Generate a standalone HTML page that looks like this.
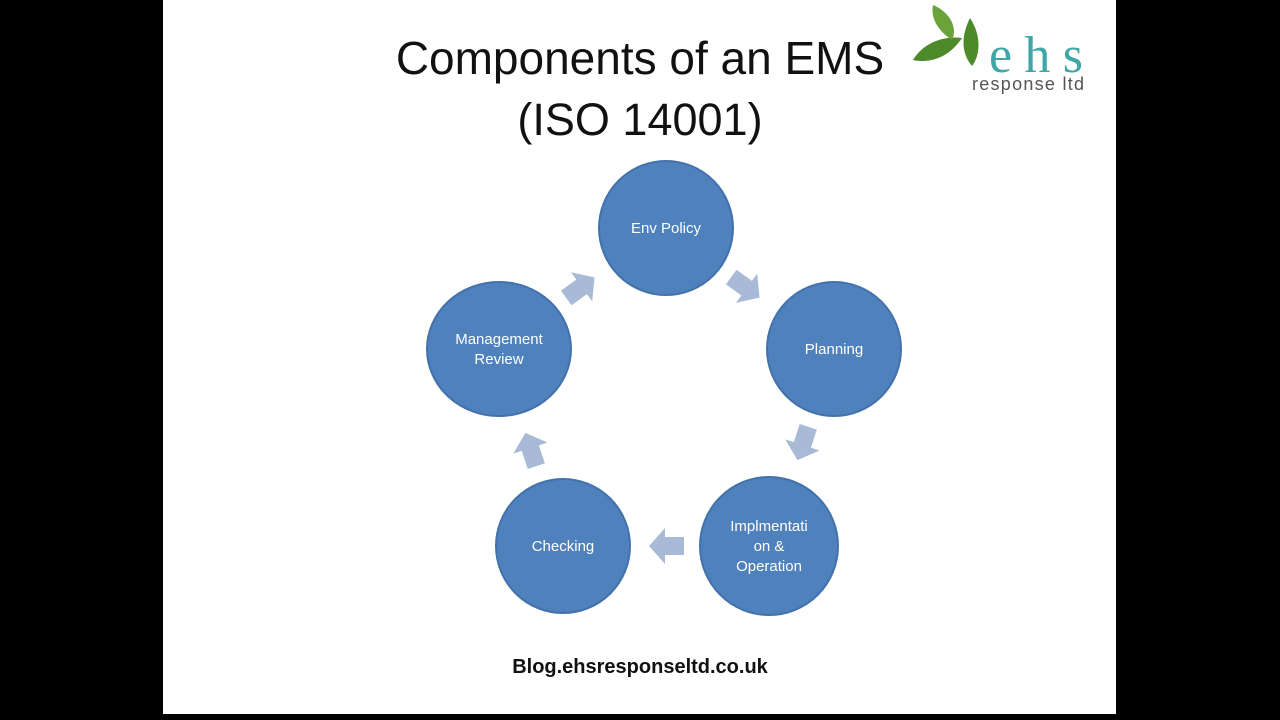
<!DOCTYPE html>
<html><head><meta charset="utf-8"><style>
body{margin:0;width:1280px;height:720px;background:#000;overflow:hidden;font-family:"Liberation Sans",sans-serif}
#slide{position:absolute;left:163px;top:0;width:953px;height:714px;background:#fff}
.t{position:absolute;white-space:nowrap;text-align:center}
</style></head><body>
<div id="slide"></div>
<div class="t" style="left:340px;width:600px;top:31px;font-size:46px;color:#111">Components of an EMS</div>
<div class="t" style="left:340px;width:600px;top:94px;font-size:45px;color:#111">(ISO 14001)</div>
<div class="t" style="left:440px;width:400px;top:656px;font-size:20px;font-weight:bold;color:#111">Blog.ehsresponseltd.co.uk</div>
<svg width="1280" height="720" style="position:absolute;left:0;top:0">
<defs><path id="ar" d="M-17,-9 L2,-9 L2,-18 L18,0 L2,18 L2,9 L-17,9 Z" fill="#a8bad6"/></defs>
<g fill="#4f81bd" stroke="#4372ab" stroke-width="2">
<circle cx="666" cy="228" r="67"/>
<circle cx="834" cy="349" r="67"/>
<circle cx="769" cy="546" r="69"/>
<circle cx="563" cy="546" r="67"/>
<ellipse cx="499" cy="349" rx="72" ry="67"/>
</g>
<use href="#ar" transform="translate(745,287) rotate(36)"/>
<use href="#ar" transform="translate(803,443) rotate(108)"/>
<use href="#ar" transform="translate(667,546) rotate(180)"/>
<use href="#ar" transform="translate(531,450) rotate(-108)"/>
<use href="#ar" transform="translate(580,288) rotate(-36)"/>
<g fill="#fff" font-family="Liberation Sans,sans-serif" font-size="15" text-anchor="middle">
<text x="666" y="233">Env Policy</text>
<text x="834" y="354">Planning</text>
<text x="769" y="531">Implmentati</text><text x="769" y="551">on &amp;</text><text x="769" y="571">Operation</text>
<text x="563" y="551">Checking</text>
<text x="499" y="344">Management</text><text x="499" y="364">Review</text>
</g>
<g fill="#4e8a2a">
<path d="M913,60 C925,40 948,36 962,38 C950,56 932,64 913,60Z"/>
<path d="M933,5 C950,12 958,28 952,40 C940,32 930,20 933,5Z" fill="#6aa33a"/>
<path d="M970,18 C982,36 980,56 972,66 C960,52 962,34 970,18Z"/>
</g>
<text x="989" y="72" font-family="Liberation Serif,serif" font-size="52" fill="#3fa7a8" textLength="94">ehs</text>
<text x="972" y="90" font-family="Liberation Sans,sans-serif" font-size="18" fill="#555" textLength="112">response ltd</text>
</svg>
</body></html>
